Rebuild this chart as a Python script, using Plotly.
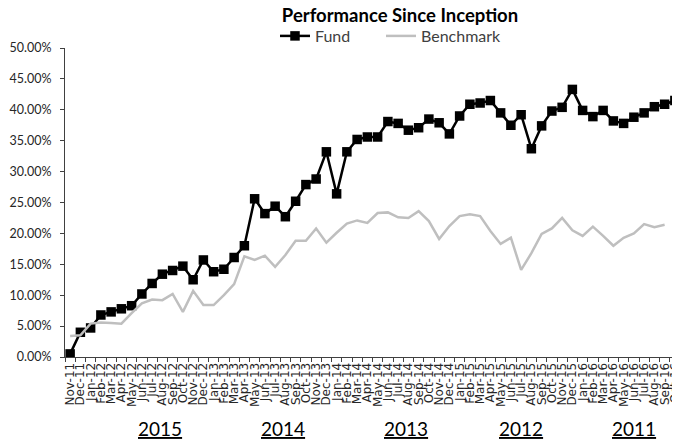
import plotly.graph_objects as go

months = ["Nov-11", "Dec-11", "Jan-12", "Feb-12", "Mar-12", "Apr-12", "May-12", "Jun-12", "Jul-12", "Aug-12",
          "Sep-12", "Oct-12", "Nov-12", "Dec-12", "Jan-13", "Feb-13", "Mar-13", "Apr-13", "May-13", "Jun-13",
          "Jul-13", "Aug-13", "Sep-13", "Oct-13", "Nov-13", "Dec-13", "Jan-14", "Feb-14", "Mar-14", "Apr-14",
          "May-14", "Jun-14", "Jul-14", "Aug-14", "Sep-14", "Oct-14", "Nov-14", "Dec-14", "Jan-15", "Feb-15",
          "Mar-15", "Apr-15", "May-15", "Jun-15", "Jul-15", "Aug-15", "Sep-15", "Oct-15", "Nov-15", "Dec-15",
          "Jan-16", "Feb-16", "Mar-16", "Apr-16", "May-16", "Jun-16", "Jul-16", "Aug-16", "Sep-16", "Oct-16"]

fund = [0.5, 4.0, 4.7, 6.8, 7.3, 7.8, 8.3, 10.2, 11.9, 13.4,
        14.0, 14.7, 12.5, 15.7, 13.8, 14.2, 16.1, 18.0, 25.6, 23.2,
        24.4, 22.7, 25.2, 27.9, 28.8, 33.2, 26.4, 33.2, 35.2, 35.6,
        35.6, 38.1, 37.8, 36.7, 37.1, 38.5, 37.9, 36.1, 39.0, 40.9,
        41.1, 41.5, 39.5, 37.5, 39.2, 33.7, 37.4, 39.8, 40.4, 43.3,
        39.9, 38.9, 39.9, 38.2, 37.8, 38.8, 39.5, 40.5, 40.9, 41.5]

benchmark = [3.4, 3.5, 5.4, 5.6, 5.5, 5.4, 7.1, 8.7, 9.3, 9.2,
             10.2, 7.3, 10.7, 8.4, 8.4, 10.0, 11.8, 16.3, 15.7, 16.4,
             14.6, 16.5, 18.8, 18.8, 20.8, 18.5, 20.1, 21.6, 22.1, 21.7,
             23.3, 23.4, 22.6, 22.5, 23.6, 22.0, 19.1, 21.2, 22.8, 23.1,
             22.8, 20.4, 18.3, 19.3, 14.1, 16.8, 19.9, 20.8, 22.5, 20.5,
             19.6, 21.1, 19.6, 18.0, 19.3, 20.0, 21.5, 21.0, 21.4, None]

year_labels = ["2015", "2014", "2013", "2012", "2011"]
year_label_pos = [8.8, 20.8, 32.8, 44.0, 55.0]

y_ticks = [i * 0.05 for i in range(11)]

fund_frac = [v / 100 for v in fund]
bench_frac = [v / 100 if v is not None else None for v in benchmark]

# The page places the figure 8px from the top-left corner (default body margin),
# so the figure is sized 672x432 to fill the 680x440 window.
W, H = 672, 432
PLOT_W, PLOT_H = 615, 309
LEFT = 57

fig = go.Figure()
fig.add_trace(go.Scatter(
    x=months, y=fund_frac, name="Fund", mode="lines+markers",
    line=dict(color="#000000", width=2.5),
    marker=dict(symbol="square", size=9.5, color="#000000"),
    legend="legend",
))
fig.add_trace(go.Scatter(
    x=months, y=bench_frac, name="Benchmark", mode="lines",
    line=dict(color="#BFBFBF", width=2.5),
    legend="legend2",
))

for lab, pos in zip(year_labels, year_label_pos):
    fig.add_annotation(
        x=pos, y=-71 / PLOT_H, xref="x", yref="paper", text="<u>" + lab + "</u>",
        showarrow=False, xanchor="center", yanchor="middle",
        font=dict(family="Lato", size=19, color="#000000"),
    )

legend_common = dict(orientation="h", xanchor="left", y=1 + 12 / PLOT_H, yanchor="middle",
                     font=dict(family="Lato", size=16, color="#404040"),
                     bgcolor="rgba(0,0,0,0)")

fig.update_layout(
    width=W, height=H,
    margin=dict(l=LEFT, r=0, t=40, b=83, autoexpand=False),
    paper_bgcolor="white", plot_bgcolor="white",
    title=dict(text="<b>Performance Since Inception</b>", x=392 / W, xanchor="center",
               y=1 - 8 / H, yanchor="middle",
               font=dict(family="Lato", size=18.5, color="#000000")),
    legend=dict(x=(267 - LEFT) / PLOT_W, **legend_common),
    legend2=dict(x=(373 - LEFT) / PLOT_W, **legend_common),
    showlegend=True,
)

fig.update_xaxes(
    type="category", tickmode="array", tickvals=months, ticktext=months,
    tickangle=-90, tickson="boundaries", ticks="outside", ticklen=4,
    tickcolor="#404040", showline=True, linecolor="#404040", linewidth=1,
    showgrid=False, zeroline=False, range=[-0.5, 59.5], automargin=False,
    tickfont=dict(family="DejaVu Sans", size=12, color="#262626"),
)
fig.update_yaxes(
    range=[0, 0.5], tickmode="array", tickvals=y_ticks, tickformat=".2%",
    ticks="outside", ticklen=4, tickcolor="#404040", showline=True,
    linecolor="#404040", linewidth=1, showgrid=False, zeroline=False,
    ticklabelstandoff=6, automargin=False,
    tickfont=dict(family="Lato", size=12.5, color="#262626"),
)

fig.write_html("out.html")
